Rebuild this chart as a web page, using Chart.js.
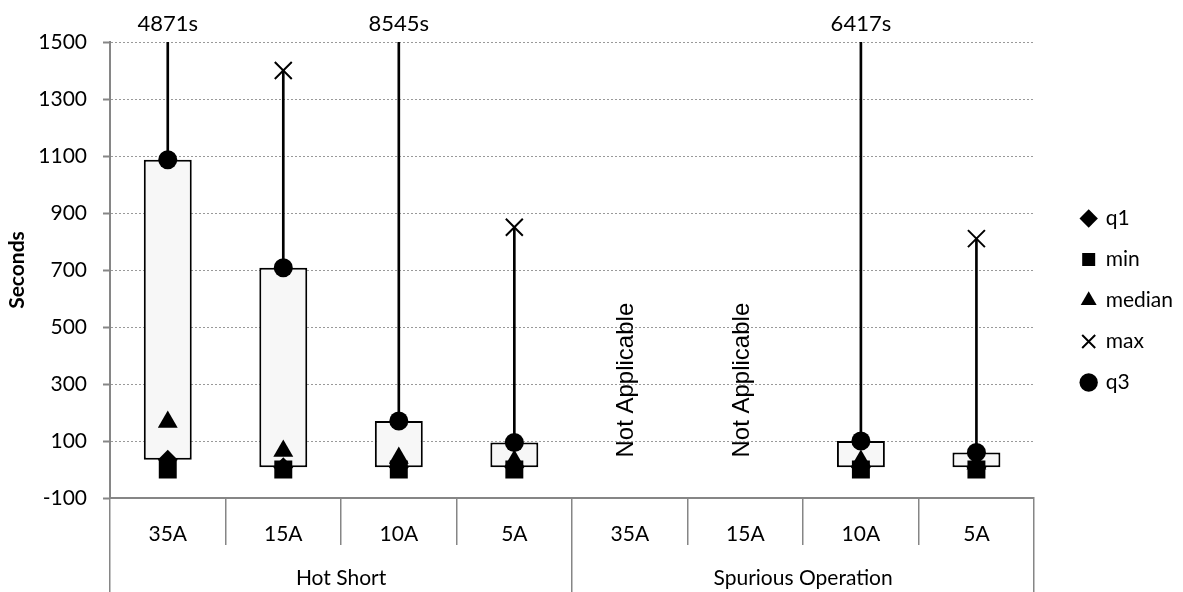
<!DOCTYPE html>
<html><head><meta charset="utf-8">
<script src="https://cdn.jsdelivr.net/npm/chart.js@4.4.0/dist/chart.umd.min.js"></script>
<style>html,body{margin:0;padding:0;background:#fff;}#wrap{width:1183px;height:592px;}</style>
</head><body><div id="wrap"><canvas id="c" width="1183" height="592"></canvas></div>
<script>
const categories = ['35A','15A','10A','5A','35A','15A','10A','5A'];
const groups = ['Hot Short','Spurious Operation'];
const q1Vals = [34, 8, 8, 8, null, null, 8, 8];
const minVals = [0, 0, 0, 0, null, null, 0, 0];
const medianVals = [167, 65, 40, 30, null, null, 30, 20];
const maxVals = [4871, 1400, 8545, 850, null, null, 6417, 810];
const q3Vals = [1087, 708, 170, 95, null, null, 100, 60];
const yMin = -100, yMax = 1500, yStep = 200;
const naText = 'Not Applicable';

const boxData = q1Vals.map((v, i) => (v === null ? null : [v, q3Vals[i]]));
const whiskerData = q3Vals.map((v, i) => (v === null ? null : [v, maxVals[i]]));

Chart.defaults.font.family = 'Lato';
Chart.defaults.color = '#000';

const axisGrey = '#868686';

const naPlugin = {
  id: 'naLabels',
  afterDatasetsDraw(chart) {
    const { ctx, scales: { x, y } } = chart;
    ctx.save();
    ctx.font = '24px "Liberation Sans"';
    ctx.fillStyle = '#000';
    ctx.textBaseline = 'middle';
    ctx.textAlign = 'left';
    q3Vals.forEach((v, i) => {
      if (v === null) {
        ctx.save();
        ctx.translate(x.getPixelForValue(i) - 3, y.getPixelForValue(42));
        ctx.rotate(-Math.PI / 2);
        ctx.fillText(naText, 0, 0);
        ctx.restore();
      }
    });
    ctx.restore();
  }
};

const marker = (label, data, style, radius, extra) => Object.assign({
  type: 'line', label, data, showLine: false, pointStyle: style, pointRadius: radius,
  pointHoverRadius: radius, backgroundColor: '#000', borderColor: '#000',
  pointBackgroundColor: '#000', pointBorderColor: '#000', pointBorderWidth: 0, order: 0
}, extra || {});

new Chart(document.getElementById('c'), {
  type: 'bar',
  data: {
    labels: categories,
    datasets: [
      { type: 'bar', label: 'box', data: boxData, backgroundColor: '#f7f7f7', borderColor: '#000',
        borderWidth: 2, borderSkipped: false, barPercentage: 0.415, categoryPercentage: 1,
        grouped: false, order: 10 },
      { type: 'bar', label: 'whisker', data: whiskerData, backgroundColor: '#000', borderWidth: 0,
        barThickness: 2, grouped: false, order: 9 },
      marker('q1', q1Vals, 'rectRot', 10),
      marker('min', minVals, 'rect', 12.7),
      marker('median', medianVals, 'triangle', 11.5),
      marker('max', maxVals, 'crossRot', 12, { pointBorderWidth: 2 }),
      marker('q3', q3Vals, 'circle', 9.5)
    ]
  },
  options: {
    responsive: false,
    animation: false,
    events: [],
    layout: { padding: { top: 9, left: 0, right: 0, bottom: 0 } },
    plugins: {
      tooltip: { enabled: false },
      legend: {
        position: 'right', align: 'center',
        labels: {
          usePointStyle: true, boxWidth: 13, boxHeight: 13, padding: 20,
          font: { size: 21 }, color: '#000',
          filter: item => item.datasetIndex >= 2,
          sort: (a, b) => a.datasetIndex - b.datasetIndex
        }
      }
    },
    scales: {
      x: {
        type: 'category', position: 'bottom', offset: true, weight: 0,
        grid: { display: true, drawOnChartArea: false, offset: true, tickLength: 47,
                color: axisGrey, lineWidth: 1.5, tickColor: axisGrey, tickWidth: 1.5 },
        border: { display: true, color: axisGrey, width: 2 },
        ticks: { font: { size: 21 }, color: '#000', padding: -23, maxRotation: 0, autoSkip: false },
        afterFit: s => { s.height = 47; }
      },
      x2: {
        type: 'category', position: 'bottom', labels: groups, offset: true, weight: 1,
        grid: { display: true, drawOnChartArea: false, offset: true, tickLength: 47,
                color: axisGrey, lineWidth: 1.5, tickColor: axisGrey, tickWidth: 1.5 },
        border: { display: false },
        ticks: { font: { size: 21 }, color: '#000', padding: -26, maxRotation: 0, autoSkip: false },
        afterFit: s => { s.height = 47; }
      },
      xTop: {
        type: 'category', position: 'top', labels: categories, offset: true,
        grid: { display: false }, border: { display: false },
        ticks: { font: { size: 22 }, color: '#000', padding: -3, maxRotation: 0, autoSkip: false,
                 callback: (v, i) => (maxVals[i] !== null && maxVals[i] > yMax ? maxVals[i] + 's' : '') },
        afterFit: s => { s.height = 33; }
      },
      y: {
        type: 'linear', position: 'left', min: yMin, max: yMax,
        ticks: { stepSize: yStep, font: { size: 21 }, color: '#000', padding: 16,
                 callback: v => String(v) },
        grid: { color: '#999', lineWidth: 1, tickLength: 7, tickColor: axisGrey, tickWidth: 2 },
        border: { display: true, color: axisGrey, width: 2, dash: [2, 2] },
        title: { display: true, text: 'Seconds', font: { size: 21, weight: 'bold' }, color: '#000',
                 padding: { top: 5, bottom: 0 } },
        afterFit: s => { s.width = 110; }
      },
      yRight: {
        type: 'linear', position: 'right', display: true,
        grid: { display: false }, border: { display: false }, ticks: { display: false },
        afterFit: s => { s.width = 28; }
      }
    }
  },
  plugins: [naPlugin]
});
</script>
</body></html>
